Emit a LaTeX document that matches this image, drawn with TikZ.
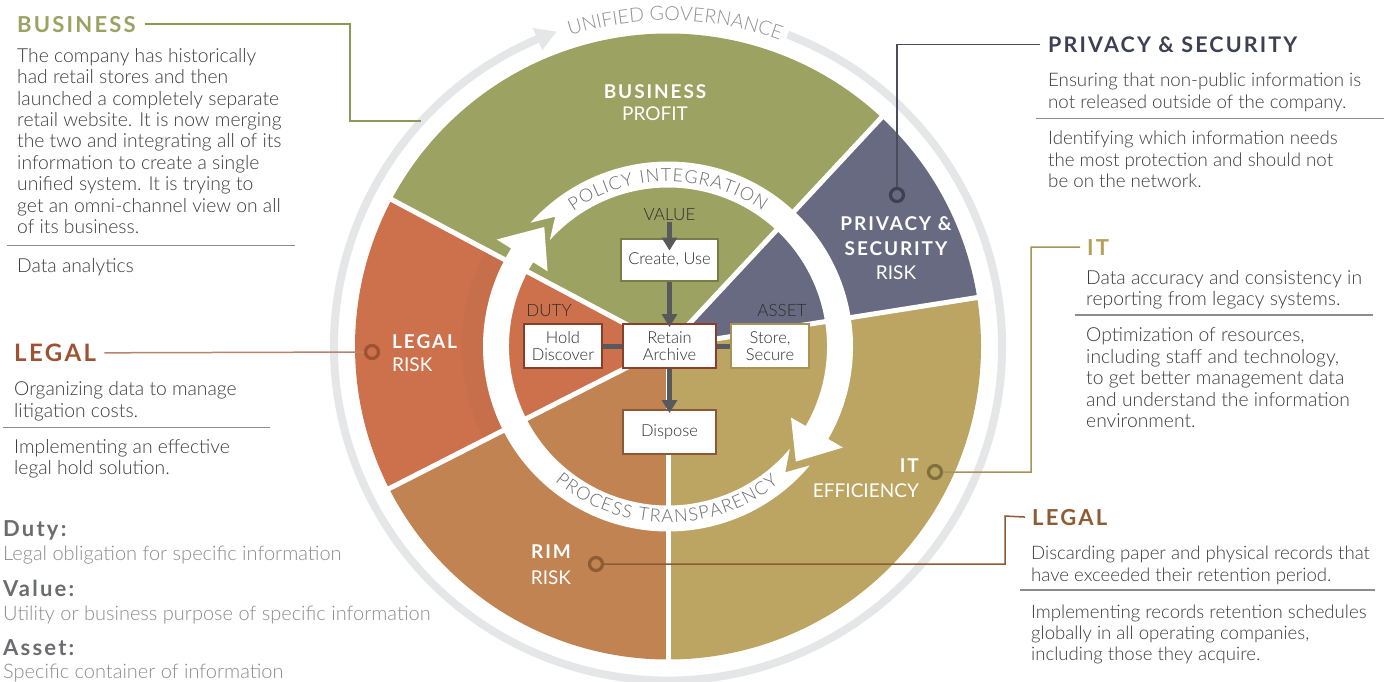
\documentclass[tikz,border=0pt]{standalone}
\usepackage{fontspec}
\setmainfont{Lato}
\IfFontExistsTF{Lato Light}{\newfontfamily\lightfont{Lato Light}}{\newfontfamily\lightfont{Lato}}
\newfontfamily\capsfont{Lato}[LetterSpace=10]
\usetikzlibrary{arrows.meta,decorations.text}

\definecolor{bizgreen}{HTML}{9BA262}
\definecolor{privslate}{HTML}{676A80}
\definecolor{ittan}{HTML}{BCA562}
\definecolor{rimbrown}{HTML}{C28352}
\definecolor{legalred}{HTML}{CC714C}
\definecolor{ringgrey}{HTML}{E5E6E8}
\definecolor{ringtext}{HTML}{8E8F93}
\definecolor{innertext}{HTML}{6A6B6F}
\definecolor{arrowgrey}{HTML}{58595B}
\definecolor{textdark}{HTML}{2E2E30}
\definecolor{bodygrey}{HTML}{3B3B3D}
\definecolor{rulegrey}{HTML}{8C8C8E}
\definecolor{legendhead}{HTML}{6B6C6F}
\definecolor{legendtext}{HTML}{8A8B8E}
\definecolor{privdark}{HTML}{3D3F52}
\definecolor{itdark}{HTML}{B5A05A}
\definecolor{legaldark}{HTML}{9D5232}
\definecolor{rimdark}{HTML}{8D5B34}
\definecolor{bizline}{HTML}{8E9658}
\definecolor{privline}{HTML}{4A4C5C}
\definecolor{itline}{HTML}{A69458}
\definecolor{legline}{HTML}{B8846E}
\definecolor{createline}{HTML}{787D48}
\definecolor{retainline}{HTML}{8B3E2A}
\definecolor{holdline}{HTML}{84402A}
\definecolor{storeline}{HTML}{A89257}
\definecolor{disposeline}{HTML}{8E5833}

\tikzstyle{stage} = [draw,line width=2.4pt,fill=white,align=center,inner sep=0pt,minimum height=43.5pt,text=textdark,font=\lightfont\fontsize{16.5}{17.5}\selectfont]
\tikzstyle{flow} = [draw=arrowgrey,line width=5pt,-{Triangle[length=13pt,width=15pt]}]
\tikzstyle{link} = [draw=arrowgrey,line width=5pt]
\tikzstyle{dot} = [circle,draw,line width=3.2pt,minimum size=13pt,inner sep=0pt]
\tikzstyle{callout} = [line width=1.5pt]
\tikzstyle{rule} = [draw=rulegrey,line width=1.2pt]
\tikzstyle{head} = [anchor=base west,inner sep=0pt,font=\capsfont\bfseries\fontsize{22}{24}\selectfont]
\tikzstyle{body} = [anchor=base west,inner sep=0pt,align=left,text=bodygrey,font=\lightfont\fontsize{19.3}{21.4}\selectfont]
\tikzstyle{legend} = [anchor=base west,inner sep=0pt,text=legendtext,font=\lightfont\fontsize{20}{24}\selectfont]
\tikzstyle{sector} = [anchor=base,inner sep=0pt,align=center,text=white,font=\fontsize{19}{25}\selectfont]
\tikzstyle{sectorhead} = [sector,font=\capsfont\bfseries\fontsize{19}{25}\selectfont]
\tikzstyle{tag} = [anchor=base,inner sep=0pt,text=textdark,font=\lightfont\fontsize{17}{20}\selectfont]

\begin{document}
\begin{tikzpicture}[x=1pt,y=-1pt]
\useasboundingbox (0,0) rectangle (1387,681);

% the wheel
\begin{scope}[shift={(668,346.5)},y=1pt]
	\fill[bizgreen] (0,0) -- (47:313) arc (47:152:313) -- cycle;
	\fill[legalred] (0,0) -- (152:313) arc (152:207:313) -- cycle;
	\fill[legalred!97.5!black] (152:183) arc (152:207:183) -- (207:206) arc (207:152:206) -- cycle;
	\fill[rimbrown] (0,0) -- (207:313) arc (207:270:313) -- cycle;
	\fill[ittan] (0,0) -- (270:313) arc (270:369:313) -- cycle;
	\fill[privslate] (0,0) -- (9:313) arc (9:47:313) -- cycle;
	\foreach \a in {9,47,152,207,270}
		\draw[white,line width=5pt] (0,0) -- (\a:316);
	% unified governance ring
	\draw[ringgrey,line width=8pt] (69:334) arc (69:-247:334);
	\fill[ringgrey] (113:322) -- (113:346) -- (109.5:334) -- cycle;
	\path[decorate,decoration={text along path,text align={fit to path},text color=ringtext,
		text={|\lightfont\fontsize{19.5}{20}\selectfont|UNIFIED GOVERNANCE}}] (107.5:326) arc (107.5:70.5:326);
	% inner arrows
	\fill[white] (-40:185) arc (-40:-212:185) -- (-212:202) -- (-224:172) -- (-212:142) -- (-212:159) arc (-212:-40:159) -- (-47:172) -- cycle;
	\fill[white] (138:185) arc (138:-30:185) -- (-30:202) -- (-42:172) -- (-30:142) -- (-30:159) arc (-30:138:159) -- (131:172) -- cycle;
	\path[decorate,decoration={text along path,text align={fit to path},text color=innertext,
		text={|\lightfont\fontsize{18}{18}\selectfont|POLICY INTEGRATION}}] (125:165) arc (125:55:165);
	\path[decorate,decoration={text along path,text align={fit to path},text color=innertext,
		text={|\lightfont\fontsize{18}{18}\selectfont|PROCESS TRANSPARENCY}}] (230:176) arc (230:309:176);
\end{scope}

% sector labels
\node[sectorhead] (bizlabel) at (655,98) {BUSINESS};
\node[sector] (bizsub) at (655,120) {PROFIT};
\node[sectorhead] (privlabel) at (896,255) {PRIVACY \&\\SECURITY};
\node[sector] (privsub) at (896,279) {RISK};
\node[sectorhead,anchor=base west] (leglabel) at (392,348) {LEGAL};
\node[sector,anchor=base west] (legsub) at (392,371) {RISK};
\node[sectorhead,anchor=base east] (itlabel) at (919,472) {IT};
\node[sector,anchor=base east] (itsub) at (919,497) {EFFICIENCY};
\node[sectorhead] (rimlabel) at (551,558) {RIM};
\node[sector] (rimsub) at (551,584) {RISK};

% lifecycle boxes
\node (retain) [stage,draw=retainline,minimum width=92.5pt] at (669.5,346) {Retain\\Archive};
\node (hold) [stage,draw=holdline,minimum width=77.5pt,node distance=106.5pt,left of=retain] {Hold\\Discover};
\node (store) [stage,draw=storeline,minimum width=77.5pt,node distance=100.5pt,right of=retain] {Store,\\Secure};
\node (create) [stage,draw=createline,minimum width=97.5pt,minimum height=42.5pt,node distance=86pt,above of=retain] {Create, Use};
\node (dispose) [stage,draw=disposeline,minimum width=92.5pt,node distance=86pt,below of=retain] {Dispose};
\node (valuetag) [tag] at (669.5,220) {VALUE};
\node (dutytag) [tag] at (549,316) {DUTY};
\node (assettag) [tag] at (782,316) {ASSET};
\draw [flow,shorten <=2pt,shorten >=-13pt] (valuetag) -- (create);
\draw [flow,shorten >=-4pt] (create) -- (retain);
\draw [flow,shorten >=-4pt] (retain) -- (dispose);
\draw [link] (hold) -- (retain);
\draw [link] (retain) -- (store);

% markers
\node (privdot) [dot,draw=privdark] at (897,195) {};
\node (itdot) [dot,draw=itdark!70!black] at (935,472) {};
\node (legdot) [dot,draw=legaldark] at (372,352) {};
\node (rimdot) [dot,draw=rimdark] at (596,564) {};

% left column
\node (bizhead) [head,text=bizgreen] at (17,32) {BUSINESS};
\node (biztext) [body] at (17,233.5) {The company has historically\\had retail stores and then\\launched a completely separate\\retail website. It is now merging\\the two and integrating all of its\\information to create a single\\unified system. It is trying to\\get an omni-channel view on all\\of its business.};
\draw [rule] (7,245.5) -- (295,245.5);
\node (biznote) [body] at (17,272) {Data analytics};
\coordinate (bizbend) at (350,121);
\coordinate (bizend) at (421,121);
\draw [callout,draw=bizline] ([xshift=9pt]bizhead.east) -| (bizbend) -- (bizend);

\node (leghead) [head,text=legaldark,font=\capsfont\bfseries\fontsize{24}{24}\selectfont] at (14,361.5) {LEGAL};
\node (legtext) [body] at (14,417) {Organizing data to manage\\litigation costs.};
\draw [rule] (3,427.3) -- (270,427.3);
\node (legnote) [body] at (14,474.7) {Implementing an effective\\legal hold solution.};
\draw [callout,draw=legline] ([xshift=8pt]leghead.east) -- (legdot);

\node (dutyhead) [head,text=legendhead] at (3,536) {Duty:};
\node (dutytext) [legend] at (3,560) {Legal obligation for specific information};
\node (valuehead) [head,text=legendhead] at (3,596) {Value:};
\node (valuetext) [legend] at (3,620) {Utility or business purpose of specific information};
\node (assethead) [head,text=legendhead] at (3,655) {Asset:};
\node (assettext) [legend] at (3,678) {Specific container of information};

% right column
\node (privhead) [head,text=privdark,font=\capsfont\bfseries\fontsize{21.5}{24}\selectfont] at (1048,52.3) {PRIVACY \& SECURITY};
\node (privtext) [body,font=\lightfont\fontsize{18.7}{21.6}\selectfont] at (1048,108.1) {Ensuring that non-public information is\\not released outside of the company.};
\draw [rule] (1036,118.3) -- (1384,118.3);
\node (privnote) [body,font=\lightfont\fontsize{18.7}{21.6}\selectfont] at (1048,187.8) {Identifying which information needs\\the most protection and should not\\be on the network.};
\draw [callout,draw=privline] ([xshift=-8pt]privhead.west) -| (privdot);

\node (ithead) [head,text=itdark] at (1087,255) {IT};
\node (ittext) [body] at (1086,305.7) {Data accuracy and consistency in\\reporting from legacy systems.};
\draw [rule] (1075,315) -- (1373,315);
\node (itnote) [body] at (1086,427.5) {Optimization of resources,\\including staff and technology,\\to get better management data\\and understand the information\\environment.};
\coordinate (itbend) at (1031,247);
\draw [callout,draw=itline] ([xshift=-7pt]ithead.west) -- (itbend) |- (itdot);

\node (rimhead) [head,text=rimdark] at (1032,525) {LEGAL};
\node (rimtext) [body,font=\lightfont\fontsize{18.6}{21.2}\selectfont] at (1031,581) {Discarding paper and physical records that\\have exceeded their retention period.};
\draw [rule] (1020,590) -- (1375,590);
\node (rimnote) [body,font=\lightfont\fontsize{18.6}{21.2}\selectfont] at (1031,660.5) {Implementing records retention schedules\\globally in all operating companies,\\including those they acquire.};
\coordinate (rimbend) at (1005,516);
\draw [callout,draw=rimdark] ([xshift=-7pt]rimhead.west) -- (rimbend) |- (rimdot);
\end{tikzpicture}
\end{document}
